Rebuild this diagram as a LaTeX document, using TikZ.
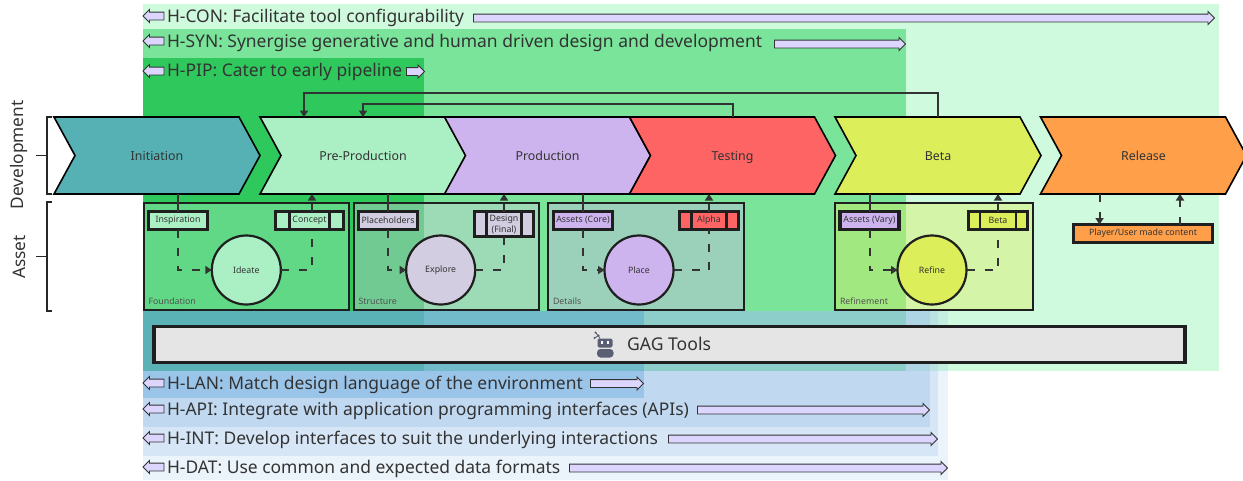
\documentclass[tikz,border=0pt]{standalone}
\usepackage{fontspec}
\setmainfont{Noto Sans}
\usetikzlibrary{shapes.arrows,shapes.symbols,arrows.meta}
\definecolor{inicol}{HTML}{56B1B4}
\definecolor{precol}{HTML}{ABF0C4}
\definecolor{prodcol}{HTML}{CDB4EE}
\definecolor{testcol}{HTML}{FF6464}
\definecolor{betacol}{HTML}{DCEE5A}
\definecolor{relcol}{HTML}{FF9F4A}
\definecolor{structcol}{HTML}{D3CDE1}
\definecolor{ink}{HTML}{333333}
\definecolor{edge}{HTML}{1F1F1F}
\definecolor{robot}{HTML}{5A5F73}
\definecolor{arrowcol}{HTML}{DCD6FF}
\definecolor{conbg}{HTML}{CFFADD}
\definecolor{synbg}{HTML}{7AE49A}
\definecolor{pipbg}{HTML}{2FC85C}
\definecolor{bluebg}{HTML}{99C1E9}
\definecolor{lanbg}{HTML}{0476CA}
\begin{document}
\begin{tikzpicture}[
		x=1pt,y=-1pt,
		every node/.style={inner sep=0pt,outer sep=0pt,text=ink},
		stage/.style={signal,signal to=east,signal from=west,signal pointer angle=122.8,
			minimum width=206pt,minimum height=77pt,draw=black,line width=1.6pt,
			text height=9.5pt,text depth=0pt,font=\fontsize{12.4}{14}\selectfont},
		area/.style={draw=edge,line width=2.4pt,fill opacity=0.4},
		tagtext/.style={font=\fontsize{8.8}{10}\selectfont,anchor=south west,text=ink!85!white},
		item/.style={draw=edge,line width=3.1pt,minimum width=59pt,minimum height=18pt,font=\fontsize{8.8}{11}\selectfont,align=center},
		act/.style={circle,draw=edge,line width=2.2pt,minimum size=69pt,font=\fontsize{8.8}{11}\selectfont},
		bar/.style={draw=edge,line width=2.4pt},
		link/.style={draw=ink,line width=2pt,-{Triangle[length=6.5pt,width=8pt]}},
		dlink/.style={link,dash pattern=on 8pt off 10pt},
		plain/.style={draw=ink,line width=2pt},
		dplain/.style={plain,dash pattern=on 8pt off 10pt},
		bracket/.style={draw=black!85,line width=1.5pt},
		hypo/.style={font=\fontsize{17.45}{20}\selectfont,anchor=west,text height=14.5pt,text depth=1.5pt},
		harrow/.style={single arrow,draw=ink,line width=0.9pt,fill=arrowcol,inner ysep=3.5pt,inner xsep=0pt,
			single arrow head extend=2.5pt,single arrow head indent=0pt,
			minimum height=#1,anchor=center},
		larrow/.style={harrow=21pt,shape border rotate=180},
		side/.style={font=\fontsize{17.3}{20}\selectfont,rotate=90}
		]
	\useasboundingbox (0,0) rectangle (1243,480);
	% hypothesis areas
	\fill[conbg] (143,4) rectangle (1219,371);
	\fill[synbg] (143,29) rectangle (906,371);
	\fill[pipbg] (143,58) rectangle (424,371);
	\fill[bluebg,opacity=0.2] (143,311) rectangle (948,480);
	\fill[bluebg,opacity=0.25] (143,311) rectangle (938,456);
	\fill[bluebg,opacity=0.37] (143,311) rectangle (930,427);
	\fill[lanbg,opacity=0.2] (143,311) rectangle (644,398);

	% development stages
	\node[stage,fill=inicol] (ini) at (157,155.5) {Initiation};
	\node[stage,fill=precol] (pre) at (363,155.5) {Pre-Production};
	\node[stage,fill=prodcol] (prod) at (547.5,155.5) {Production};
	\node[stage,fill=testcol] (test) at (732.5,155.5) {Testing};
	\node[stage,fill=betacol] (beta) at (938,155.5) {Beta};
	\node[stage,fill=relcol] (rel) at (1143.5,155.5) {Release};

	% asset areas
	\filldraw[area,fill=precol] (144,203) rectangle (349,310);
	\filldraw[area,fill=structcol] (354,203) rectangle (539,310);
	\filldraw[area,fill=prodcol] (548,203) rectangle (744,310);
	\filldraw[area,fill=betacol] (835,203) rectangle (1033,310);
	\node[tagtext] (found) at (148.5,305) {Foundation};
	\node[tagtext] (struct) at (358.5,305) {Structure};
	\node[tagtext] (detail) at (553,305) {Details};
	\node[tagtext] (refine) at (840,305) {Refinement};

	% connectors
	\node[item,fill=precol] (inspire) at (178,220.5) {Inspiration};
	\node[item,fill=precol,minimum width=68pt] (concept) at (309.5,220.5) {Concept};
	\node[act,fill=precol] (ideate) at (246.3,270) {Ideate};
	\node[item,fill=structcol] (hold) at (388,220.5) {Placeholders};
	\node[item,fill=structcol,minimum height=25pt] (design) at (504,224) {Design\\(Final)};
	\node[act,fill=structcol] (explore) at (440.7,270) {Explore};
	\node[item,fill=prodcol] (core) at (583,220.5) {Assets (Core)};
	\node[item,fill=testcol] (alpha) at (709,220.5) {Alpha};
	\node[act,fill=prodcol] (place) at (639,270) {Place};
	\node[item,fill=prodcol] (vary) at (869.5,220.5) {Assets (Vary)};
	\node[item,fill=betacol] (betabox) at (998,220.5) {Beta};
	\node[act,fill=betacol] (refinenode) at (932,270) {Refine};
	\node[item,fill=relcol,minimum width=139pt] (player) at (1143,233.5) {Player/User made content};

	\draw[bar] ([xshift=14pt]concept.north west) -- ([xshift=14pt]concept.south west);
	\draw[bar] ([xshift=-14pt]concept.north east) -- ([xshift=-14pt]concept.south east);
	\draw[bar] ([xshift=12pt]design.north west) -- ([xshift=12pt]design.south west);
	\draw[bar] ([xshift=-12pt]design.north east) -- ([xshift=-12pt]design.south east);
	\draw[bar] ([xshift=12pt]alpha.north west) -- ([xshift=12pt]alpha.south west);
	\draw[bar] ([xshift=-12pt]alpha.north east) -- ([xshift=-12pt]alpha.south east);
	\draw[bar] ([xshift=11.5pt]betabox.north west) -- ([xshift=11.5pt]betabox.south west);
	\draw[bar] ([xshift=-11.5pt]betabox.north east) -- ([xshift=-11.5pt]betabox.south east);

	\draw[plain] (inspire |- ini.south) -- (inspire.north);
	\draw[plain] (hold |- pre.south) -- (hold.north);
	\draw[plain] (core |- prod.south) -- (core.north);
	\draw[plain] (vary |- beta.south) -- (vary.north);
	\draw[dlink] (inspire.south) |- (ideate.west);
	\draw[dlink] (hold.south) |- (explore.west);
	\draw[dlink] (core.south) |- (place.west);
	\draw[dlink] (vary.south) |- (refinenode.west);
	\draw[dplain] (ideate.east) -| ([xshift=2.5pt]concept.south);
	\draw[dplain] (explore.east) -| (design.south);
	\draw[dplain] (place.east) -| (alpha.south);
	\draw[dplain] (refinenode.east) -| (betabox.south);
	\draw[dlink] ([xshift=2.5pt]concept.north) -- ([xshift=2.5pt]concept.north |- pre.south);
	\draw[dlink] (design.north) -- (design.north |- prod.south);
	\draw[dlink] (alpha.north) -- (alpha.north |- test.south);
	\draw[dlink] (betabox.north) -- (betabox.north |- beta.south);
	\draw[dlink] ([xshift=-44pt]rel.south) -- ([xshift=-44pt]rel.south |- player.north);
	\draw[dlink] ([xshift=36.5pt]rel.south |- player.north) -- ([xshift=36.5pt]rel.south);
	\draw[link] (beta.north) -- ++(0,-24) -| ([xshift=-59pt]pre.north);
	\draw[link] (test.north) -- ++(0,-13) -| (pre.north);

	% tools
	\node[draw=edge,line width=3.2pt,fill=black!10,minimum width=1031pt,minimum height=36pt] (tools) at (669.5,344.5) {};
	\node[font=\fontsize{17.6}{20}\selectfont] (toolname) at (669,344) {GAG Tools};
	\fill[robot,rounded corners=2pt] (597.5,338.5) rectangle (612.5,347.5);
	\fill[white] (600.5,341) rectangle (603,343.5);
	\fill[white] (606.5,341) rectangle (609,343.5);
	\fill[robot,rounded corners=3.5pt] (597,349) rectangle (613.5,357.5);
	\draw[robot,line width=0.9pt] (595.5,332.5) -- (598.5,336) -- (600,338.5) (598,336) -- (594.5,338);
	\fill[robot] (595.5,332.5) circle (1.2) (594.5,338) circle (1.2) (598.5,335.5) circle (1.2);

	% hypotheses
	\node[larrow] (conl) at (155.5,16) {};
	\node[hypo] (con) at (167,16) {H-CON: Facilitate tool configurability};
	\node[harrow=741pt] (conr) at (842,18) {};
	\node[larrow] (synl) at (155.5,41) {};
	\node[hypo] (syn) at (167,41) {H-SYN: Synergise generative and human driven design and development};
	\node[harrow=131pt] (synr) at (838,44) {};
	\node[larrow] (pipl) at (155.5,71) {};
	\node[hypo] (pip) at (167,70) {H-PIP: Cater to early pipeline};
	\node[harrow=18pt] (pipr) at (413.5,71.5) {};
	\node[larrow] (lanl) at (155.5,383) {};
	\node[hypo] (lan) at (167,383) {H-LAN: Match design language of the environment};
	\node[harrow=53pt] (lanr) at (615,383.5) {};
	\node[larrow] (apil) at (155.5,409) {};
	\node[hypo] (api) at (167,409) {H-API: Integrate with application programming interfaces (APIs)};
	\node[harrow=232pt] (apir) at (811.5,410) {};
	\node[larrow] (intl) at (155.5,438) {};
	\node[hypo] (int) at (167,438) {H-INT: Develop interfaces to suit the underlying interactions};
	\node[harrow=269pt] (intr) at (801,439) {};
	\node[larrow] (datl) at (155.5,467) {};
	\node[hypo] (dat) at (167,467) {H-DAT: Use common and expected data formats};
	\node[harrow=378pt] (datr) at (756.5,468) {};

	% left brackets
	\node[side] (dev) at (19,155) {Development};
	\node[side] (asset) at (19,257) {Asset};
	\draw[bracket] (52,117) -- (47,117) -- (47,194) -- (52,194) (47,155.5) -- (36,155.5);
	\draw[bracket] (52,202) -- (47,202) -- (47,311) -- (52,311) (47,256.7) -- (36,256.7);
	\end{tikzpicture}
\end{document}
